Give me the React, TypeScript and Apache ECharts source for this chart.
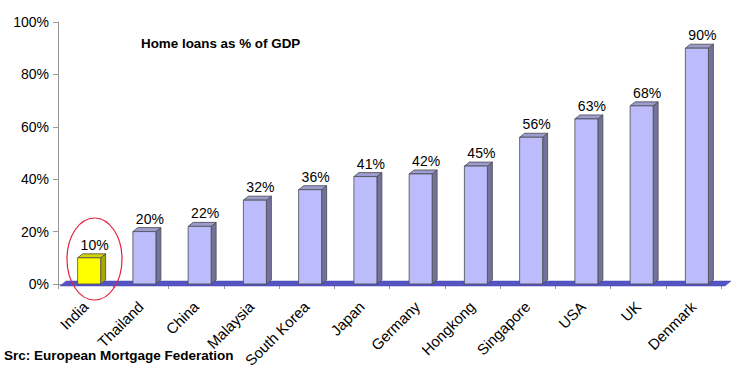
import React, { useEffect, useRef } from "react";
import * as echarts from "echarts";

const categories = ["India", "Thailand", "China", "Malaysia", "South Korea", "Japan", "Germany", "Hongkong", "Singapore", "USA", "UK", "Denmark"];
const values = [10, 20, 22, 32, 36, 41, 42, 45, 56, 63, 68, 90];
const yTicks = [0, 20, 40, 60, 80, 100];
const highlightIndex = 0;
const titleText = "Home loans as % of GDP";
const sourceText = "Src: European Mortgage Federation";

const FONT = "Liberation Sans, Arial, Helvetica, sans-serif";

export default function App() {
  const ref = useRef<HTMLDivElement>(null);
  useEffect(() => {
    if (!ref.current) return;
    const chart = echarts.init(ref.current, undefined, { renderer: "svg" });
    const data = values.map((v, i) => [i, v]);
    const option: any = {
      animation: false,
      backgroundColor: "#ffffff",
      grid: { left: 58, right: 21, top: 22, bottom: 84, containLabel: false, outerBoundsMode: "none" },
      xAxis: {
        type: "category",
        data: categories,
        offset: 3,
        axisLine: { lineStyle: { color: "#999999", width: 1 } },
        axisTick: { show: true, length: 5, lineStyle: { color: "#999999" }, alignWithLabel: false },
        axisLabel: { interval: 0, rotate: 45, fontSize: 15, color: "#000", fontFamily: FONT, margin: 17 },
      },
      yAxis: {
        type: "value",
        min: yTicks[0],
        max: yTicks[yTicks.length - 1],
        interval: 20,
        axisLine: { show: true, lineStyle: { color: "#999999", width: 1 } },
        axisTick: { show: true, length: 5, lineStyle: { color: "#999999" } },
        splitLine: { show: false },
        axisLabel: { formatter: "{value}%", fontSize: 14, color: "#000", fontFamily: FONT, margin: 9 },
      },
      series: [
        {
          type: "custom",
          z: 1,
          data: [[0, 0]],
          encode: { x: 0, y: 1 },
          renderItem: (params: any, api: any) => {
            const cs = params.coordSys;
            const base = api.coord([0, 0])[1];
            const x0 = cs.x;
            const x1 = cs.x + cs.width;
            return {
              type: "polygon",
              shape: {
                points: [
                  [x0 + 2, base + 2],
                  [x0 + 8, base - 3],
                  [x1 + 10, base - 3],
                  [x1 + 4, base + 2],
                ],
              },
              style: { fill: "#5454c4", stroke: "#4646b0", lineWidth: 0.5 },
            };
          },
        },
        {
          type: "custom",
          z: 2,
          data,
          encode: { x: 0, y: 1 },
          renderItem: (params: any, api: any) => {
            const idx = api.value(0);
            const v = api.value(1);
            const top = api.coord([idx, v]);
            const base = api.coord([idx, 0]);
            const cx = top[0];
            const w = 23;
            const dx = 5;
            const dy = 4;
            const x0 = cx - 8;
            const ty = top[1];
            const by = base[1];
            const hi = idx === highlightIndex;
            const front = hi ? "#ffff00" : "#bcbcfc";
            const side = hi ? "#a8a800" : "#72729c";
            const topC = hi ? "#d4d400" : "#9c9cd0";
            const stroke = "#4a4a4a";
            return {
              type: "group",
              children: [
                {
                  type: "polygon",
                  shape: { points: [[x0 + w, ty], [x0 + w + dx, ty - dy], [x0 + w + dx, by - dy], [x0 + w, by]] },
                  style: { fill: side, stroke, lineWidth: 0.8 },
                },
                {
                  type: "polygon",
                  shape: { points: [[x0, ty], [x0 + dx, ty - dy], [x0 + w + dx, ty - dy], [x0 + w, ty]] },
                  style: { fill: topC, stroke, lineWidth: 0.8 },
                },
                {
                  type: "rect",
                  shape: { x: x0, y: ty, width: w, height: by - ty },
                  style: { fill: front, stroke, lineWidth: 0.8 },
                },
                {
                  type: "text",
                  style: {
                    text: v + "%",
                    x: cx + 9,
                    y: ty - 6,
                    align: "center",
                    verticalAlign: "bottom",
                    fontSize: 14,
                    fontFamily: FONT,
                    fill: "#000",
                  },
                },
              ],
            };
          },
        },
      ],
      graphic: [
        {
          type: "text",
          left: 141,
          top: 37,
          style: { text: titleText, fontSize: 13.4, fontWeight: "bold", fontFamily: FONT, fill: "#000" },
        },
        {
          type: "text",
          left: 4,
          top: 348,
          style: { text: sourceText, fontSize: 13.5, fontWeight: "bold", fontFamily: FONT, fill: "#000" },
        },
        {
          type: "ellipse",
          shape: { cx: 94.5, cy: 259, rx: 27.5, ry: 41 },
          style: { fill: "none", stroke: "#e8203c", lineWidth: 1.2 },
          z: 10,
        },
      ],
    };
    chart.setOption(option);
    return () => chart.dispose();
  }, []);
  return <div ref={ref} style={{ position: "fixed", left: 0, top: 0, width: 742, height: 368 }} />;
}
